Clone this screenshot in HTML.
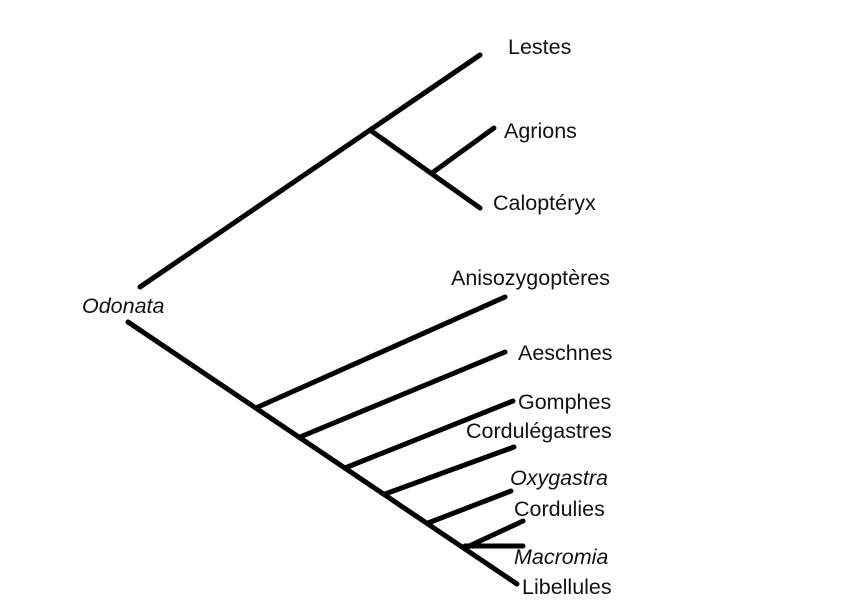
<!DOCTYPE html>
<html><head><style>
body{margin:0;background:#fff;width:867px;height:602px;overflow:hidden}
svg{position:absolute;left:0;top:0}
text{font-family:"Liberation Sans",sans-serif;font-size:21.5px;fill:#111}
</style></head><body>
<svg width="867" height="602" viewBox="0 0 867 602">
<g stroke="#000" stroke-width="5" stroke-linecap="round" fill="none">
<line x1="140" y1="287" x2="480" y2="55"/>
<line x1="370" y1="130" x2="480" y2="208"/>
<line x1="432" y1="173" x2="494" y2="128"/>
<line x1="128" y1="322" x2="517" y2="584"/>
<line x1="258" y1="407" x2="505" y2="297"/>
<line x1="300" y1="437" x2="505" y2="352"/>
<line x1="345" y1="468" x2="513" y2="401"/>
<line x1="385" y1="494" x2="514" y2="447"/>
<line x1="428" y1="523" x2="511" y2="491"/>
<line x1="465" y1="548" x2="523" y2="521"/>
<line x1="465" y1="546" x2="523" y2="546"/>
</g>
<text x="508" y="54">Lestes</text>
<text x="504" y="138">Agrions</text>
<text x="493" y="210">Caloptéryx</text>
<text x="451" y="285">Anisozygoptères</text>
<text x="518" y="360">Aeschnes</text>
<text x="518" y="409">Gomphes</text>
<text x="466" y="438">Cordulégastres</text>
<text x="510" y="485" font-style="italic">Oxygastra</text>
<text x="514" y="516">Cordulies</text>
<text x="514" y="564" font-style="italic">Macromia</text>
<text x="522" y="594">Libellules</text>
<text x="82" y="313" font-style="italic">Odonata</text>
</svg>
</body></html>
